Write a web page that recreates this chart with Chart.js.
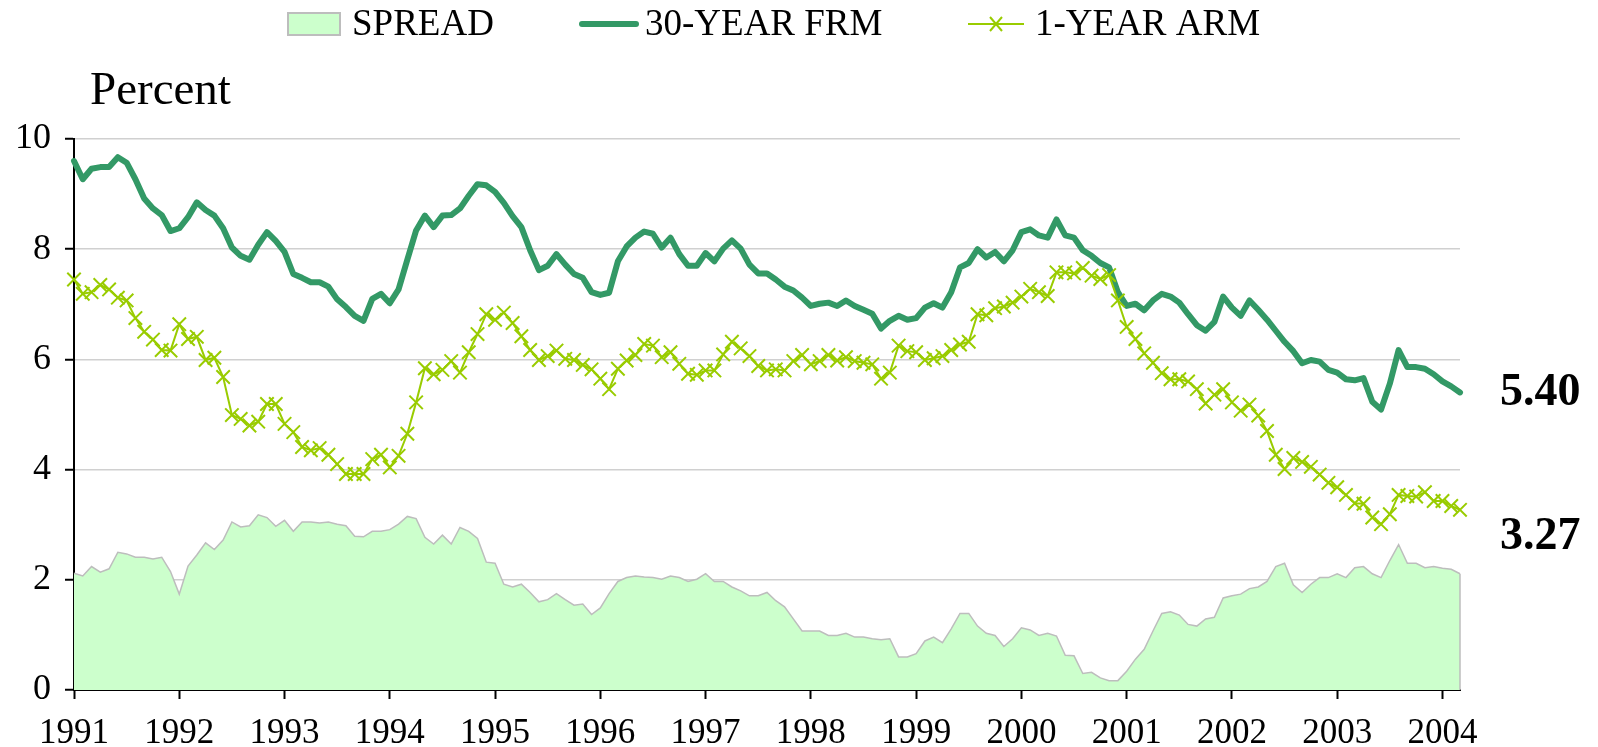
<!DOCTYPE html>
<html>
<head>
<meta charset="utf-8">
<title>Mortgage rates</title>
<script src="https://cdn.jsdelivr.net/npm/chart.js@4/dist/chart.umd.min.js"></script>
<style>
  html, body { margin: 0; padding: 0; background: #fff; }
  #wrap { width: 1598px; height: 747px; }
</style>
</head>
<body>
<div id="wrap"><canvas id="rateChart" width="1598" height="747"></canvas></div>
<script>
// monthly, Jan 1991 .. Mar 2004
const firstYear = 1991;

const frm = [
    9.60, 9.27, 9.46, 9.49, 9.49, 9.67, 9.57, 9.27, 8.92, 8.74, 8.62, 8.33,
    8.38, 8.58, 8.85, 8.71, 8.61, 8.38, 8.03, 7.88, 7.81, 8.08, 8.31, 8.15,
    7.95, 7.55, 7.48, 7.40, 7.40, 7.32, 7.09, 6.95, 6.79, 6.70, 7.10, 7.19,
    7.02, 7.27, 7.81, 8.34, 8.61, 8.40, 8.61, 8.62, 8.74, 8.97, 9.18, 9.16,
    9.04, 8.84, 8.60, 8.40, 7.98, 7.62, 7.70, 7.91, 7.72, 7.55, 7.48, 7.22,
    7.17, 7.21, 7.78, 8.05, 8.21, 8.32, 8.28, 8.03, 8.21, 7.91, 7.70, 7.70,
    7.93, 7.78, 8.01, 8.16, 8.01, 7.72, 7.56, 7.56, 7.45, 7.32, 7.25, 7.12,
    6.97, 7.01, 7.03, 6.97, 7.07, 6.97, 6.90, 6.83, 6.56, 6.70, 6.79, 6.72,
    6.75, 6.94, 7.02, 6.94, 7.22, 7.67, 7.75, 8.00, 7.85, 7.95, 7.78, 7.98,
    8.31, 8.36, 8.25, 8.21, 8.54, 8.25, 8.21, 7.98, 7.88, 7.75, 7.67, 7.22,
    6.97, 7.01, 6.89, 7.07, 7.19, 7.14, 7.03, 6.82, 6.62, 6.52, 6.68, 7.14,
    6.94, 6.79, 7.07, 6.90, 6.72, 6.52, 6.32, 6.15, 5.93, 5.99, 5.96, 5.81,
    5.76, 5.64, 5.62, 5.66, 5.23, 5.09, 5.56, 6.17, 5.86, 5.86, 5.83, 5.73,
    5.60, 5.51, 5.40
];

const arm = [
    7.45, 7.19, 7.22, 7.35, 7.27, 7.12, 7.07, 6.75, 6.50, 6.36, 6.17, 6.16,
    6.64, 6.37, 6.41, 5.99, 6.03, 5.68, 4.99, 4.92, 4.80, 4.87, 5.19, 5.19,
    4.83, 4.68, 4.41, 4.35, 4.39, 4.27, 4.10, 3.92, 3.92, 3.92, 4.19, 4.27,
    4.04, 4.25, 4.65, 5.22, 5.84, 5.73, 5.81, 5.97, 5.76, 6.13, 6.46, 6.82,
    6.72, 6.85, 6.66, 6.42, 6.17, 5.99, 6.06, 6.16, 6.01, 5.99, 5.90, 5.82,
    5.65, 5.46, 5.83, 5.98, 6.08, 6.28, 6.25, 6.04, 6.13, 5.92, 5.74, 5.72,
    5.80, 5.80, 6.09, 6.32, 6.20, 6.06, 5.88, 5.80, 5.82, 5.80, 5.97, 6.08,
    5.91, 5.97, 6.08, 5.98, 6.04, 5.97, 5.94, 5.91, 5.65, 5.76, 6.25, 6.15,
    6.13, 5.99, 6.02, 6.06, 6.17, 6.27, 6.32, 6.82, 6.80, 6.93, 6.96, 7.03,
    7.14, 7.28, 7.22, 7.15, 7.58, 7.58, 7.56, 7.66, 7.52, 7.46, 7.53, 7.07,
    6.59, 6.37, 6.11, 5.94, 5.75, 5.64, 5.64, 5.60, 5.46, 5.20, 5.36, 5.46,
    5.22, 5.07, 5.18, 4.98, 4.70, 4.27, 4.01, 4.21, 4.14, 4.05, 3.91, 3.76,
    3.68, 3.54, 3.39, 3.38, 3.13, 3.01, 3.19, 3.54, 3.52, 3.51, 3.59, 3.43,
    3.43, 3.34, 3.27
];

const spread = [
    2.12, 2.07, 2.24, 2.14, 2.20, 2.50, 2.47, 2.41, 2.41, 2.38, 2.41, 2.15,
    1.74, 2.25, 2.45, 2.67, 2.55, 2.72, 3.05, 2.96, 2.98, 3.18, 3.13, 2.97,
    3.08, 2.88, 3.05, 3.05, 3.03, 3.05, 3.01, 2.98, 2.79, 2.78, 2.88, 2.88,
    2.91, 3.01, 3.15, 3.11, 2.77, 2.65, 2.81, 2.65, 2.95, 2.88, 2.75, 2.32,
    2.30, 1.92, 1.87, 1.92, 1.77, 1.60, 1.64, 1.75, 1.64, 1.54, 1.56, 1.37,
    1.49, 1.75, 1.97, 2.04, 2.07, 2.05, 2.04, 2.01, 2.07, 2.04, 1.97, 2.01,
    2.11, 1.97, 1.97, 1.87, 1.80, 1.71, 1.71, 1.77, 1.62, 1.51, 1.29, 1.07,
    1.07, 1.07, 0.99, 0.99, 1.03, 0.96, 0.96, 0.93, 0.91, 0.93, 0.60, 0.60,
    0.66, 0.89, 0.96, 0.86, 1.11, 1.39, 1.39, 1.16, 1.03, 0.99, 0.79, 0.93,
    1.13, 1.09, 0.99, 1.03, 0.98, 0.63, 0.62, 0.30, 0.32, 0.22, 0.17, 0.17,
    0.34, 0.56, 0.74, 1.07, 1.39, 1.42, 1.36, 1.19, 1.16, 1.29, 1.32, 1.67,
    1.71, 1.74, 1.84, 1.87, 1.97, 2.24, 2.30, 1.91, 1.77, 1.92, 2.04, 2.04,
    2.11, 2.04, 2.22, 2.24, 2.11, 2.04, 2.35, 2.64, 2.30, 2.30, 2.22, 2.24,
    2.21, 2.19, 2.11
];

const seriesNames = ["SPREAD", "30-YEAR FRM", "1-YEAR ARM"];

// category labels "YYYY-MM"
const months = frm.map(function (v, i) {
    const y = firstYear + Math.floor(i / 12);
    const m = (i % 12) + 1;
    return y + "-" + (m < 10 ? "0" + m : m);
});

const SERIF = "'Liberation Serif', 'Times New Roman', serif";
const FRM_COLOR = "#339966";
const ARM_COLOR = "#99cc00";
const SPREAD_FILL = "#ccffcc";
const SPREAD_LINE = "#bdbdbd";

Chart.defaults.font.family = SERIF;
Chart.defaults.color = "#000";

// legend, "Percent" caption and end-value labels
const decorations = {
    id: "decorations",
    afterDatasetsDraw(chart) {
        const ctx = chart.ctx;
        const area = chart.chartArea;
        const x = chart.scales.x;
        const y = chart.scales.y;
        ctx.save();

        // right edge of the spread area
        const last = spread.length - 1;
        ctx.strokeStyle = SPREAD_LINE;
        ctx.lineWidth = 1.5;
        ctx.beginPath();
        ctx.moveTo(x.getPixelForValue(last), y.getPixelForValue(spread[last]));
        ctx.lineTo(x.getPixelForValue(last), y.getPixelForValue(0));
        ctx.stroke();

        // caption
        ctx.fillStyle = "#000";
        ctx.textAlign = "left";
        ctx.textBaseline = "alphabetic";
        ctx.font = "47px " + SERIF;
        ctx.fillText("Percent", 90, 104);

        // end values
        ctx.font = "bold 46px " + SERIF;
        ctx.textBaseline = "middle";
        const lastFrm = frm[frm.length - 1];
        const lastArm = arm[arm.length - 1];
        ctx.fillText(lastFrm.toFixed(2), area.right + 40, y.getPixelForValue(lastFrm) + 1);
        ctx.fillText(lastArm.toFixed(2), area.right + 40, y.getPixelForValue(lastArm) + 27);

        // legend
        const ly = 24;
        ctx.font = "37px " + SERIF;
        ctx.textBaseline = "middle";

        ctx.fillStyle = SPREAD_FILL;
        ctx.fillRect(288, 13, 52, 22);
        ctx.strokeStyle = SPREAD_LINE;
        ctx.lineWidth = 2;
        ctx.strokeRect(288, 13, 52, 22);
        ctx.fillStyle = "#000";
        ctx.fillText(seriesNames[0], 352, ly + 1);

        ctx.strokeStyle = FRM_COLOR;
        ctx.lineWidth = 6;
        ctx.lineCap = "round";
        ctx.beginPath();
        ctx.moveTo(582, ly);
        ctx.lineTo(636, ly);
        ctx.stroke();
        ctx.fillText(seriesNames[1], 645, ly + 1);

        ctx.strokeStyle = ARM_COLOR;
        ctx.lineWidth = 2;
        ctx.lineCap = "butt";
        ctx.beginPath();
        ctx.moveTo(968, ly);
        ctx.lineTo(1024, ly);
        ctx.moveTo(990, ly - 7);
        ctx.lineTo(1002, ly + 7);
        ctx.moveTo(1002, ly - 7);
        ctx.lineTo(990, ly + 7);
        ctx.stroke();
        ctx.fillText(seriesNames[2], 1035, ly + 1);

        ctx.restore();
    },
};

const ctx = document.getElementById("rateChart");
new Chart(ctx, {
    type: "line",
    data: {
        labels: months,
        datasets: [
            {
                label: seriesNames[0],
                data: spread,
                order: 3,
                fill: "origin",
                backgroundColor: SPREAD_FILL,
                borderColor: SPREAD_LINE,
                borderWidth: 1.5,
                pointRadius: 0,
                tension: 0,
            },
            {
                label: seriesNames[1],
                data: frm,
                order: 2,
                fill: false,
                borderColor: FRM_COLOR,
                borderWidth: 6,
                borderCapStyle: "round",
                borderJoinStyle: "round",
                pointRadius: 0,
                tension: 0,
                clip: false,
            },
            {
                label: seriesNames[2],
                data: arm,
                order: 1,
                fill: false,
                borderColor: ARM_COLOR,
                borderWidth: 2,
                pointStyle: "crossRot",
                pointRadius: 9.5,
                pointBorderWidth: 2,
                pointBorderColor: ARM_COLOR,
                pointBackgroundColor: ARM_COLOR,
                tension: 0,
                clip: false,
            },
        ],
    },
    options: {
        responsive: false,
        animation: false,
        events: [],
        layout: {
            padding: { left: 1, right: 138, top: 139, bottom: -21 },
        },
        scales: {
            x: {
                type: "category",
                offset: false,
                grid: {
                    drawOnChartArea: false,
                    drawTicks: true,
                    tickLength: 9,
                    tickColor: "#000",
                    tickWidth: 2,
                },
                border: { color: "#000", width: 2 },
                ticks: {
                    autoSkip: false,
                    maxRotation: 0,
                    padding: 17,
                    font: { size: 35, lineHeight: 1.0 },
                    color: "#000",
                    callback: function (value) {
                        const label = this.getLabelForValue(value);
                        return label.endsWith("-01") ? label.slice(0, 4) : null;
                    },
                },
            },
            y: {
                min: 0,
                max: 10,
                grid: {
                    color: "#d0d0d0",
                    lineWidth: 1.5,
                    tickLength: 9,
                    tickColor: "#000",
                    tickWidth: 2,
                },
                border: { color: "#000", width: 2 },
                ticks: {
                    stepSize: 2,
                    padding: 14,
                    font: { size: 36 },
                    color: "#000",
                },
            },
        },
        plugins: {
            legend: { display: false },
            title: { display: false },
            tooltip: { enabled: false },
        },
    },
    plugins: [decorations],
});
</script>
</body>
</html>
